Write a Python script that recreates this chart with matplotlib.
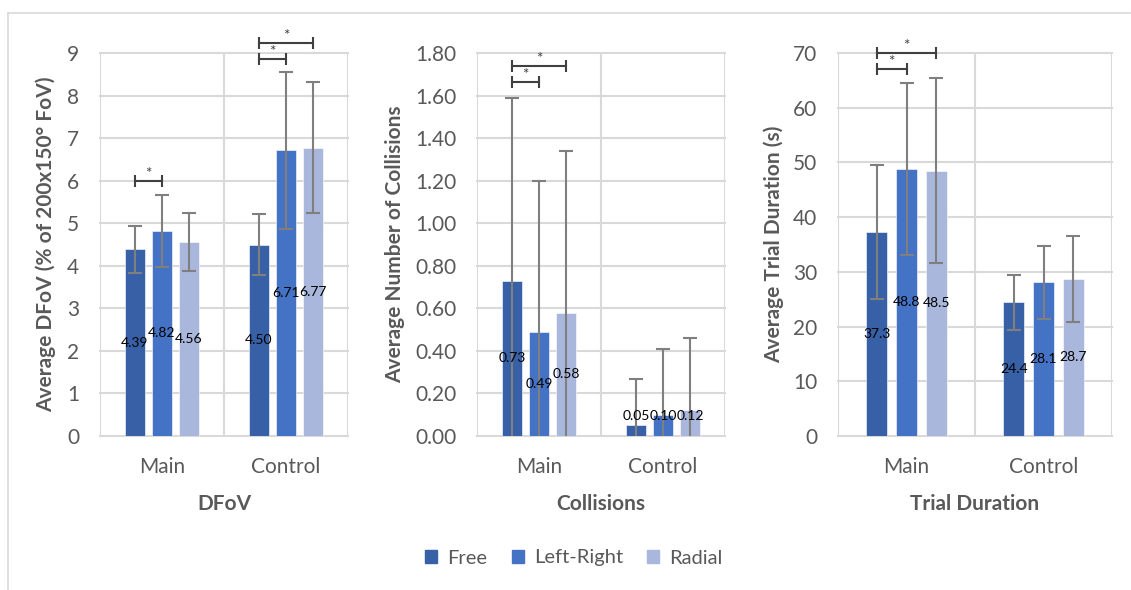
import matplotlib.pyplot as plt
from matplotlib.patches import Patch
from matplotlib.lines import Line2D

plt.rcParams['font.family'] = ['Lato', 'DejaVu Sans']

# data
groups = ['Main', 'Control']
series = ['Free', 'Left-Right', 'Radial']
colors = ['#3760A6', '#4472C4', '#A9B7DC']

dfov_mean = [[4.39, 4.50], [4.82, 6.71], [4.56, 6.77]]
dfov_err = [[0.55, 0.71], [0.85, 1.85], [0.68, 1.54]]

coll_mean = [[0.73, 0.05], [0.49, 0.10], [0.58, 0.12]]
coll_err = [[0.86, 0.22], [0.71, 0.31], [0.76, 0.34]]

dur_mean = [[37.3, 24.4], [48.8, 28.1], [48.5, 28.7]]
dur_err = [[12.2, 5.1], [15.7, 6.7], [16.9, 7.9]]

# significance brackets: (group index, series a, series b, height)
dfov_sig = [(0, 0, 1, 6.0), (1, 0, 1, 8.87), (1, 0, 2, 9.24)]
coll_sig = [(0, 0, 1, 1.665), (0, 0, 2, 1.737)]
dur_sig = [(0, 0, 1, 67.1), (0, 0, 2, 70.0)]

panels = [
    dict(mean=dfov_mean, err=dfov_err, sig=dfov_sig, ymax=9, step=1, fmt='{:.2f}', tfmt='{:.0f}',
         ylabel='Average DFoV (% of 200x150° FoV)', xlabel='DFoV',
         rect=(100, 248), ylab_x=-0.178),
    dict(mean=coll_mean, err=coll_err, sig=coll_sig, ymax=1.8, step=0.2, fmt='{:.2f}', tfmt='{:.2f}',
         ylabel='Average Number of Collisions', xlabel='Collisions',
         rect=(477, 248), ylab_x=-0.290),
    dict(mean=dur_mean, err=dur_err, sig=dur_sig, ymax=70, step=10, fmt='{:.1f}', tfmt='{:.0f}',
         ylabel='Average Trial Duration (s)', xlabel='Trial Duration',
         rect=(838, 274), ylab_x=-0.197),
]

W, H = 1131, 590
fig = plt.figure(figsize=(W / 100, H / 100), dpi=100)

grid_c = '#D9D9D9'
text_c = '#595959'
offset = 0.218
width = 0.155

for p in panels:
    left, w = p['rect']
    ax = fig.add_axes([left / W, (H - 436) / H, w / W, 383 / H])
    ax.set_xlim(-0.5, 1.5)
    ax.set_ylim(0, p['ymax'])
    n = int(round(p['ymax'] / p['step']))
    ticks = [i * p['step'] for i in range(n + 1)]
    ax.set_yticks(ticks)
    ax.set_yticklabels([p['tfmt'].format(t) for t in ticks])
    for t in ticks:
        ax.axhline(t, color=grid_c, lw=1.5, zorder=0, clip_on=False)
    for xv in [-0.5, 0.5, 1.5]:
        ax.axvline(xv, color=grid_c, lw=1.5, zorder=0)
    for s in ax.spines.values():
        s.set_visible(False)
    ax.tick_params(length=0, labelsize=15, labelcolor=text_c)
    ax.tick_params(axis='y', pad=15)
    ax.tick_params(axis='x', pad=15)
    ax.set_xticks(range(len(groups)))
    ax.set_xticklabels(groups)

    for i, name in enumerate(series):
        xs = [g + (i - 1) * offset for g in range(len(groups))]
        ax.bar(xs, p['mean'][i], width, color=colors[i], edgecolor='white', lw=0.4,
               zorder=2, label=name)
        ax.errorbar(xs, p['mean'][i], yerr=p['err'][i], fmt='none', ecolor='#7F7F7F',
                    elinewidth=1.5, capsize=5, capthick=1.5, zorder=3)
        for x, v in zip(xs, p['mean'][i]):
            ax.text(x, max(v / 2, p['ymax'] * 0.052), p['fmt'].format(v), ha='center', va='center',
                    fontsize=10, color='black', zorder=4)

    for g, a, b, y in p['sig']:
        xa = g + (a - 1) * offset
        xb = g + (b - 1) * offset
        ax.plot([xa, xb], [y, y], color='#404040', lw=1.5, clip_on=False, zorder=5,
                marker='|', markersize=9, markeredgewidth=1.5)
        ax.text((xa + xb) / 2, y, '*', ha='center', va='bottom', fontsize=11,
                color='#404040', clip_on=False)

    ax.set_ylabel(p['ylabel'], fontsize=15, fontweight='bold', color=text_c)
    ax.yaxis.set_label_coords(p['ylab_x'], 0.5)
    ax.set_xlabel(p['xlabel'], fontsize=15, fontweight='bold', color=text_c)
    ax.xaxis.set_label_coords(0.5, -(494 - 436) / 383)

handles = [Patch(color=c, label=s) for c, s in zip(colors, series)]
fig.legend(handles=handles, loc='center', bbox_to_anchor=(574 / W, 1 - 558 / H), ncol=3,
           frameon=False, fontsize=14.5, handlelength=0.6, handleheight=0.6,
           handletextpad=0.5, columnspacing=1.2, labelcolor=text_c)

# outer chart frame
fig.add_artist(Line2D([8 / W, 1130 / W], [1 - 13 / H, 1 - 13 / H], color=grid_c, lw=1.2))
fig.add_artist(Line2D([8 / W, 8 / W], [1 - 13 / H, 0], color=grid_c, lw=1.2))

fig.savefig('out.png', dpi=100)
